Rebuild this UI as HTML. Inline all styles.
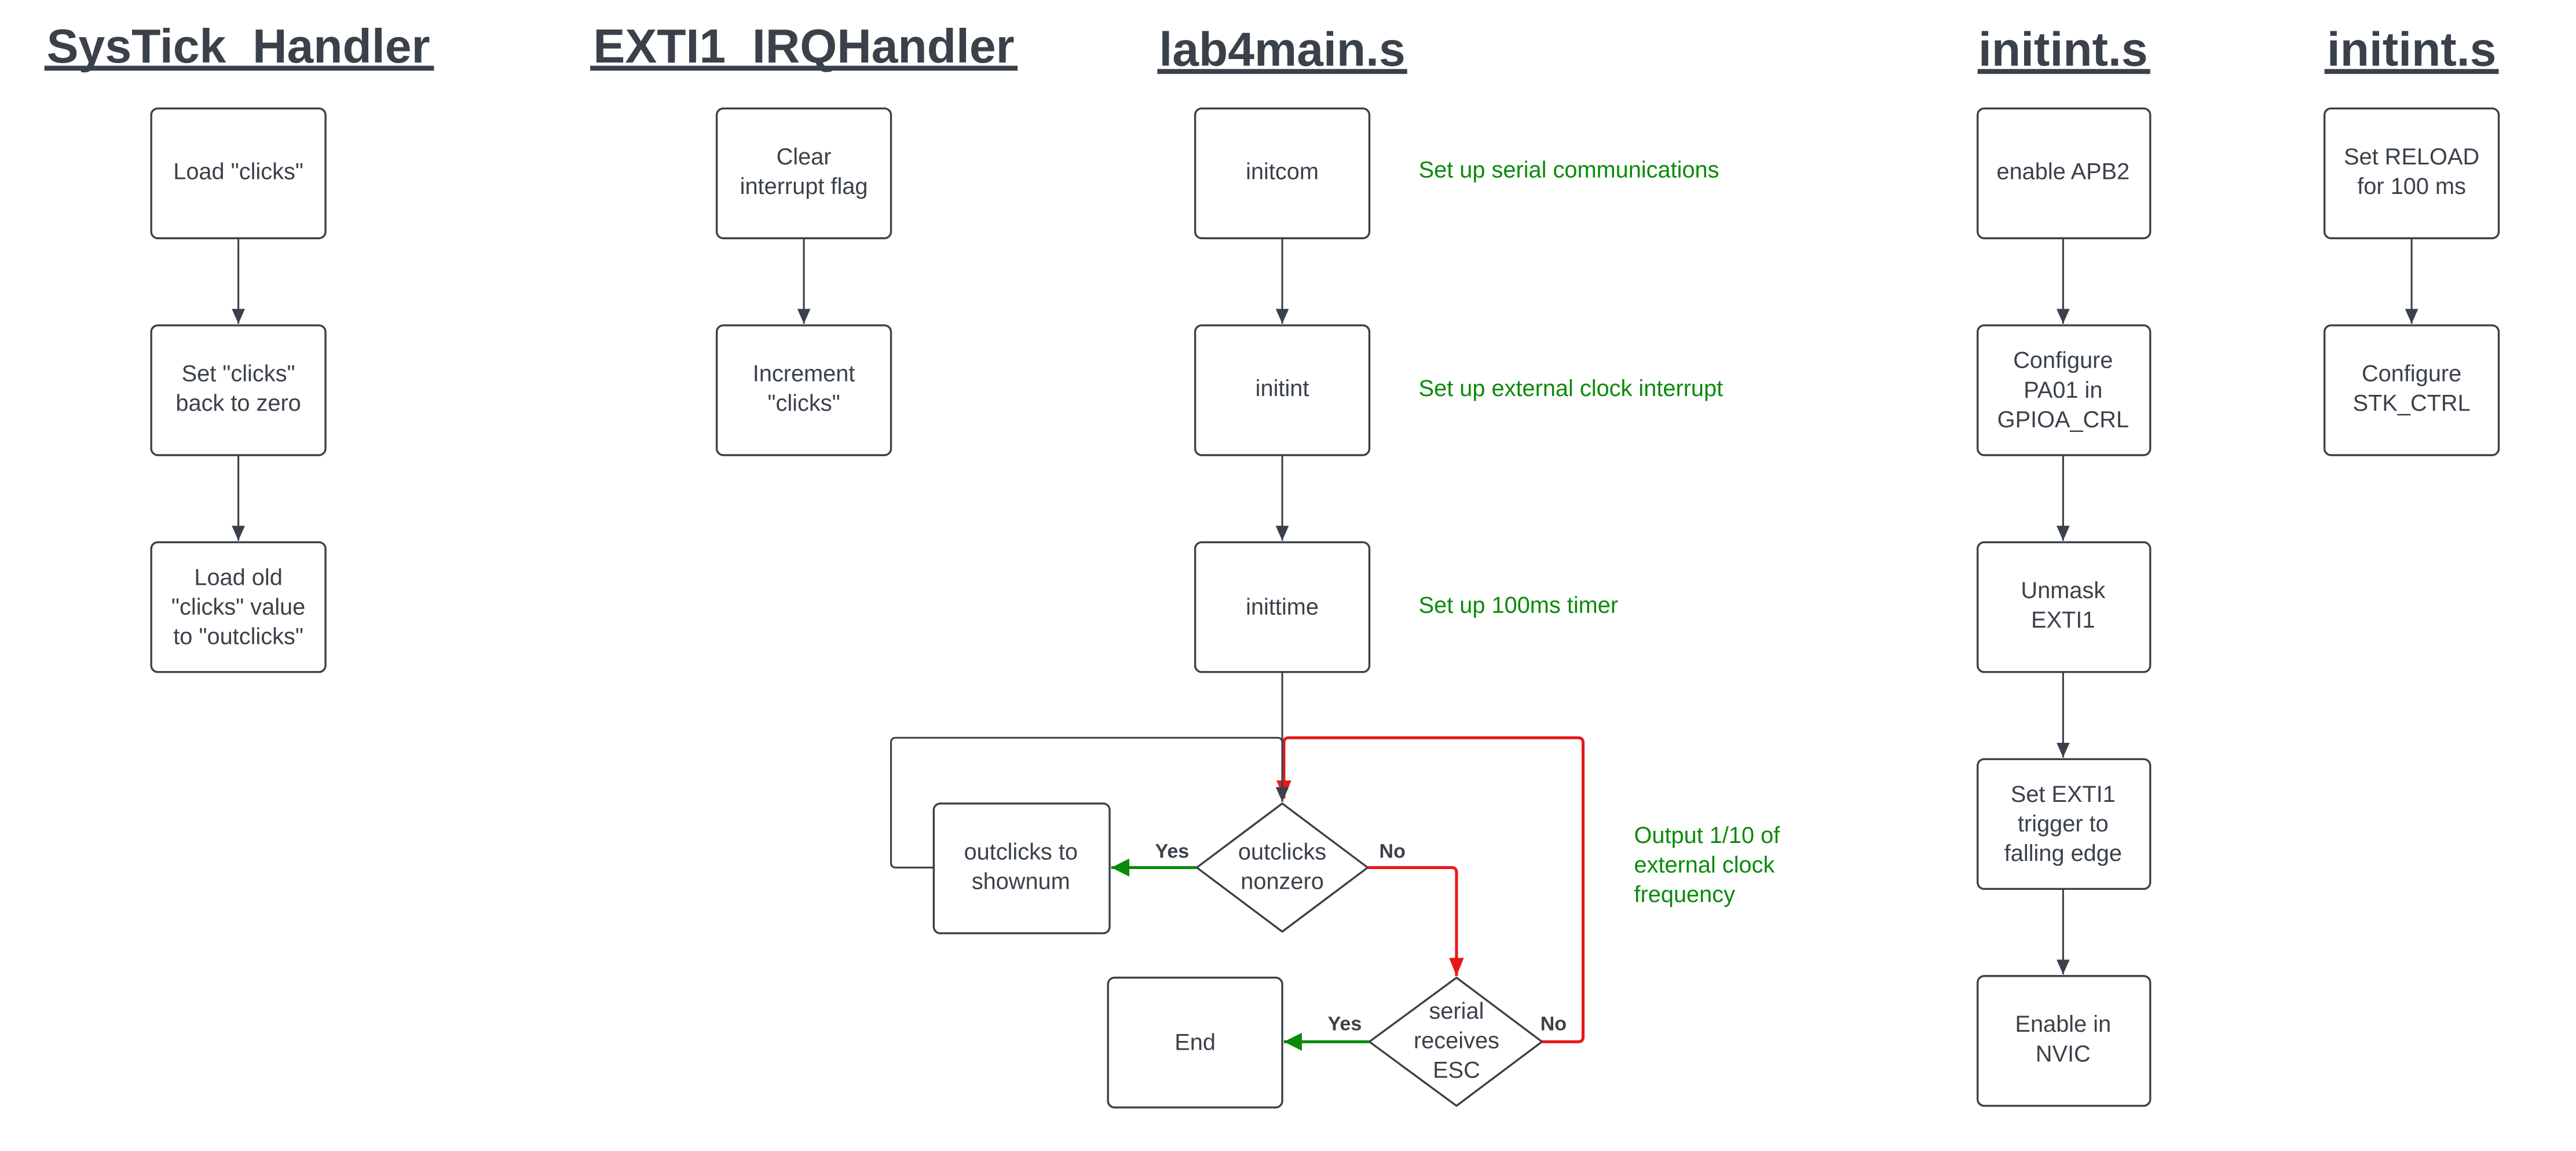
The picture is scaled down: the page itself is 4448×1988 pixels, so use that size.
<!DOCTYPE html>
<html><head><meta charset="utf-8"><style>
html,body{margin:0;padding:0;background:#fff;}
svg{display:block;}
text{font-family:"Liberation Sans",sans-serif;}
</style></head><body>
<svg width="4448" height="1988" viewBox="0 0 1567 700.5" preserveAspectRatio="none" xmlns="http://www.w3.org/2000/svg">
<defs>
<marker id="ad" markerWidth="10" markerHeight="10" refX="9" refY="5" orient="auto" markerUnits="userSpaceOnUse"><path d="M0,1 L9,5 L0,9 z" fill="#3a414a"/></marker>
<marker id="ag" markerWidth="12" markerHeight="12" refX="11" refY="6" orient="auto" markerUnits="userSpaceOnUse"><path d="M0,0.5 L11,6 L0,11.5 z" fill="#0a8a0a"/></marker>
<marker id="ar" markerWidth="12" markerHeight="12" refX="11" refY="6" orient="auto" markerUnits="userSpaceOnUse"><path d="M0,1.5 L11,6 L0,10.5 z" fill="#e81818"/></marker>
</defs>
<rect width="1567" height="701" fill="#fff"/>
<g fill="#3a414a" font-weight="bold" font-size="29" text-anchor="middle">
<text x="145" y="38">SysTick_Handler</text>
<text x="489" y="38">EXTI1_IRQHandler</text>
<text x="780" y="40">lab4main.s</text>
<text x="1255" y="40">initint.s</text>
<text x="1467" y="40">initint.s</text>
</g>
<g fill="#3a414a">
<rect x="27" y="40" width="237" height="3"/>
<rect x="359" y="40" width="260" height="3"/>
<rect x="704" y="42" width="152" height="3"/>
<rect x="1203" y="42" width="105" height="3"/>
<rect x="1414" y="42" width="106" height="3"/>
</g>
<g fill="#fff" stroke="#3a414a" stroke-width="1.2">
<rect x="92" y="66" width="106" height="79" rx="4"/>
<rect x="92" y="198" width="106" height="79" rx="4"/>
<rect x="92" y="330" width="106" height="79" rx="4"/>
<rect x="436" y="66" width="106" height="79" rx="4"/>
<rect x="436" y="198" width="106" height="79" rx="4"/>
<rect x="727" y="66" width="106" height="79" rx="4"/>
<rect x="727" y="198" width="106" height="79" rx="4"/>
<rect x="727" y="330" width="106" height="79" rx="4"/>
<rect x="1203" y="66" width="105" height="79" rx="4"/>
<rect x="1203" y="198" width="105" height="79" rx="4"/>
<rect x="1203" y="330" width="105" height="79" rx="4"/>
<rect x="1203" y="462" width="105" height="79" rx="4"/>
<rect x="1203" y="594" width="105" height="79" rx="4"/>
<rect x="1414" y="66" width="106" height="79" rx="4"/>
<rect x="1414" y="198" width="106" height="79" rx="4"/>
<rect x="568" y="489" width="107" height="79" rx="4"/>
<rect x="674" y="595" width="106" height="79" rx="4"/>
<path d="M780,489 L832,528 L780,567 L728,528 Z" stroke-linejoin="round"/>
<path d="M886,595 L938,634 L886,673 L833,634 Z" stroke-linejoin="round"/>
</g>
<g stroke="#3a414a" stroke-width="1.1" fill="none" marker-end="url(#ad)">
<line x1="145" y1="145" x2="145" y2="197"/>
<line x1="145" y1="277" x2="145" y2="329"/>
<line x1="489" y1="145" x2="489" y2="197"/>
<line x1="780" y1="145" x2="780" y2="197"/>
<line x1="780" y1="277" x2="780" y2="329"/>
<line x1="1255" y1="145" x2="1255" y2="197"/>
<line x1="1255" y1="277" x2="1255" y2="329"/>
<line x1="1255" y1="409" x2="1255" y2="461"/>
<line x1="1255" y1="541" x2="1255" y2="593"/>
<line x1="1467" y1="145" x2="1467" y2="197"/>
</g>
<path d="M568,528 L545,528 Q542,528 542,525 L542,452 Q542,449 545,449 L777,449 Q780,449 780,452" stroke="#3a414a" stroke-width="1.1" fill="none"/>
<path d="M938,634 L960,634 Q963,634 963,631 L963,452 Q963,449 960,449 L784,449 Q781,449 781,452 L781,486" stroke="#e81818" stroke-width="1.8" fill="none" marker-end="url(#ar)"/>
<line x1="780" y1="409" x2="780" y2="488" stroke="#3a414a" stroke-width="1.1" marker-end="url(#ad)"/>
<path d="M832,528 L883,528 Q886,528 886,531 L886,594" stroke="#e81818" stroke-width="1.8" fill="none" marker-end="url(#ar)"/>
<line x1="728" y1="528" x2="676" y2="528" stroke="#0a8a0a" stroke-width="1.8" marker-end="url(#ag)"/>
<line x1="833" y1="634" x2="781" y2="634" stroke="#0a8a0a" stroke-width="1.8" marker-end="url(#ag)"/>
<g fill="#3a414a" font-size="14" text-anchor="middle">
<text x="145" y="109">Load "clicks"</text>
<text x="145" y="232">Set "clicks"</text><text x="145" y="250">back to zero</text>
<text x="145" y="356">Load old</text><text x="145" y="374">"clicks" value</text><text x="145" y="392">to "outclicks"</text>
<text x="489" y="100">Clear</text><text x="489" y="118">interrupt flag</text>
<text x="489" y="232">Increment</text><text x="489" y="250">"clicks"</text>
<text x="780" y="109">initcom</text>
<text x="780" y="241">initint</text>
<text x="780" y="374">inittime</text>
<text x="1255" y="109">enable APB2</text>
<text x="1255" y="224">Configure</text><text x="1255" y="242">PA01 in</text><text x="1255" y="260">GPIOA_CRL</text>
<text x="1255" y="364">Unmask</text><text x="1255" y="382">EXTI1</text>
<text x="1255" y="488">Set EXTI1</text><text x="1255" y="506">trigger to</text><text x="1255" y="524">falling edge</text>
<text x="1255" y="628">Enable in</text><text x="1255" y="646">NVIC</text>
<text x="1467" y="100">Set RELOAD</text><text x="1467" y="118">for 100 ms</text>
<text x="1467" y="232">Configure</text><text x="1467" y="250">STK_CTRL</text>
<text x="621" y="523">outclicks to</text><text x="621" y="541">shownum</text>
<text x="727" y="639">End</text>
<text x="780" y="523">outclicks</text><text x="780" y="541">nonzero</text>
<text x="886" y="620">serial</text><text x="886" y="638">receives</text><text x="886" y="656">ESC</text>
</g>
<g fill="#3a414a" font-size="12" font-weight="bold" text-anchor="middle">
<text x="713" y="522">Yes</text>
<text x="847" y="522">No</text>
<text x="818" y="627">Yes</text>
<text x="945" y="627">No</text>
</g>
<g fill="#0a8a0a" font-size="14">
<text x="863" y="108">Set up serial communications</text>
<text x="863" y="241">Set up external clock interrupt</text>
<text x="863" y="373">Set up 100ms timer</text>
<text x="994" y="513">Output 1/10 of</text>
<text x="994" y="531">external clock</text>
<text x="994" y="549">frequency</text>
</g>
</svg>
</body></html>
